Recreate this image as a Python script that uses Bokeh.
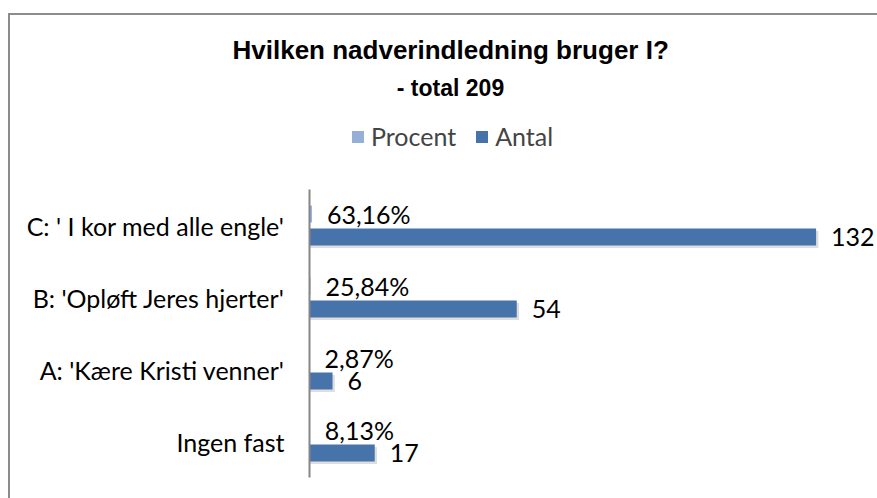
from bokeh.plotting import figure
from bokeh.layouts import column
from bokeh.models import (Range1d, ColumnDataSource, Legend, LegendItem,
                          FixedTicker, Label)
from bokeh.transform import dodge
from bokeh.core.properties import value
from bokeh.embed import file_html
from bokeh.resources import INLINE

# ---- data ----
categories = ["Ingen fast", "A: 'Kære Kristi venner'",
              "B: 'Opløft Jeres hjerter'", "C: ' I kor med alle engle'"]
procent = [0.0813, 0.0287, 0.2584, 0.6316]
antal = [17, 6, 54, 132]
series_names = ["Procent", "Antal"]
title_text = "Hvilken nadverindledning bruger I?"
subtitle_text = "- total 209"

positions = list(range(len(categories)))
procent_labels = [f"{v * 100:.2f}%".replace(".", ",") for v in procent]
antal_labels = [str(v) for v in antal]

LIGHT = "#95AFD7"
DARK = "#4673AA"
FONT = "Lato"
FS = "25px"
TOP = 49

src = ColumnDataSource(dict(pos=positions, procent=procent, antal=antal,
                            plab=procent_labels, alab=antal_labels))

p = figure(width=867, height=483,
           y_range=Range1d(-0.5, (426 - TOP) / 72),
           x_range=Range1d(0, 148),
           x_axis_location=None,
           output_backend="svg", toolbar_location=None,
           min_border_left=299, min_border_right=0,
           min_border_top=TOP, min_border_bottom=21)
p.outline_line_color = None
p.grid.visible = False
p.background_fill_color = "white"
p.border_fill_color = "white"

# main title (sits just above the plot frame, extends left of it)
p.title.text = title_text
p.title.align = "left"
p.title.offset = -77
p.title.vertical_align = "bottom"
p.title.text_font = "Liberation Sans"
p.title.text_font_style = "bold"
p.title.text_font_size = "26px"
p.title.text_color = "black"
p.title.standoff = 0

# subtitle
p.add_layout(Label(x=141, y=390, x_units="screen", y_units="screen",
                   text=subtitle_text, text_align="center",
                   text_baseline="alphabetic", text_font="Liberation Sans",
                   text_font_style="bold", text_font_size="23px",
                   text_color="black"))

ax = p.yaxis[0]
ax.bounds = (-0.5, len(categories) - 0.5)
ax.ticker = FixedTicker(ticks=positions)
ax.major_label_overrides = {i: c for i, c in zip(positions, categories)}
ax.axis_line_color = "#868686"
ax.axis_line_width = 2
ax.major_tick_line_color = None
ax.minor_tick_line_color = None
ax.major_tick_out = 0
ax.major_tick_in = 0
ax.major_label_standoff = 25
ax.major_label_text_font = FONT
ax.major_label_text_font_size = FS
ax.major_label_text_color = "black"

OFF = 0.16
H = 0.236

# shadow of Antal bars
p.hbar(y=dodge("pos", -OFF - 0.035), left=0,
       right=dodge("antal", 0.6), height=H, source=src,
       fill_color="black", fill_alpha=0.13, line_color=None)

pr = p.hbar(y=dodge("pos", OFF), left=0, right="procent",
            height=H, source=src, fill_color=LIGHT, line_color=None)
an = p.hbar(y=dodge("pos", -OFF), left=0, right="antal",
            height=H, source=src, fill_color=DARK, line_color=None)

p.text(x="procent", y=dodge("pos", OFF), text="plab",
       x_offset=15, text_baseline="middle", text_align="left",
       text_font=value(FONT), text_font_size=FS, text_color="black",
       source=src)
p.text(x="antal", y=dodge("pos", -OFF), text="alab",
       x_offset=15, text_baseline="middle", text_align="left",
       text_font=value(FONT), text_font_size=FS, text_color="black",
       source=src)

legend = Legend(items=[LegendItem(label=series_names[0], renderers=[pr]),
                       LegendItem(label=series_names[1], renderers=[an])],
                location=(41, 326), orientation="horizontal",
                glyph_width=15, glyph_height=15,
                label_text_font=FONT, label_text_font_size=FS,
                label_standoff=6, spacing=18, padding=0, margin=0,
                border_line_color=None, background_fill_alpha=0)
p.add_layout(legend)

page = column(p, styles={"margin-top": "13px", "margin-left": "8px",
                         "border-top": "2px solid #8c8c8c",
                         "border-left": "2px solid #8c8c8c"})

open("out.html", "w").write(file_html(page, INLINE))
